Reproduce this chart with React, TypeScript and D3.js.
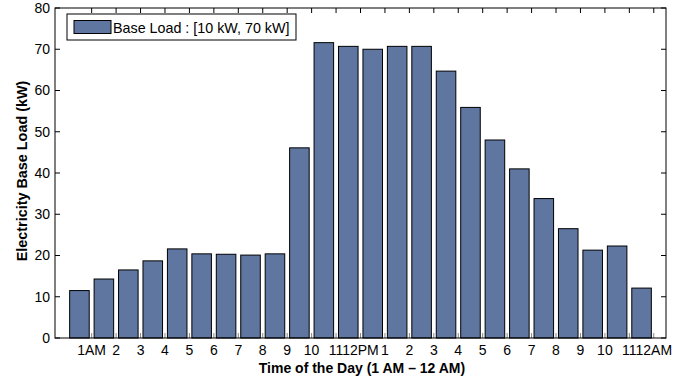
import React from "react";
import * as d3 from "d3";

const hours = ["1AM","2","3","4","5","6","7","8","9","10","11","12PM","1","2","3","4","5","6","7","8","9","10","11","12AM"];
const baseLoad = [11.5,14.3,16.5,18.7,21.6,20.4,20.3,20.1,20.4,46.1,71.6,70.7,70.0,70.7,70.7,64.7,55.9,48.0,41.0,33.8,26.5,21.3,22.3,12.1];
const yTicks = [0,10,20,30,40,50,60,70,80];
const legendLabel = "Base Load : [10 kW, 70 kW]";
const xTitle = "Time of the Day (1 AM \u2013 12 AM)";
const yTitle = "Electricity Base Load (kW)";

const W = 697, H = 386;
const M = { left: 55, right: 666, top: 8, bottom: 338 };
const FONT = "'Liberation Sans', Arial, Helvetica, sans-serif";
const BAR = "#5f76a0";

export default function App() {
  const x = d3.scaleLinear().domain([0, 25]).range([M.left, M.right]);
  const y = d3.scaleLinear().domain([0, 80]).range([M.bottom, M.top]);
  const bw = x(0.8) - x(0);
  const tl = 5;
  return (
    <svg width={W} height={H} style={{ position: "absolute", left: 0, top: 0, background: "#fff" }} fontFamily={FONT}>
      {baseLoad.map((v, i) => (
        <rect key={i} x={x(i + 1) - bw / 2} y={y(v)} width={bw} height={y(0) - y(v)}
          fill={BAR} stroke="#000" strokeWidth={1} />
      ))}
      {hours.map((h, i) => {
        const xi = x(i + 1.5);
        return (
          <g key={i}>
            <line x1={xi} x2={xi} y1={M.bottom} y2={M.bottom - tl} stroke="#888" strokeWidth={1} />
            <line x1={xi} x2={xi} y1={M.top} y2={M.top + tl} stroke="#000" strokeWidth={1} />
            <text x={xi} y={M.bottom + 17} textAnchor="middle" fontSize={14} fill="#000">{h}</text>
          </g>
        );
      })}
      {yTicks.map((t) => (
        <g key={t}>
          <line x1={M.left} x2={M.left + tl} y1={y(t)} y2={y(t)} stroke="#000" />
          <line x1={M.right} x2={M.right - tl} y1={y(t)} y2={y(t)} stroke="#000" />
          <text x={M.left - 5} y={y(t)} dy="0.35em" textAnchor="end" fontSize={14} fill="#000">{t}</text>
        </g>
      ))}
      <rect x={M.left} y={M.top} width={M.right - M.left} height={M.bottom - M.top} fill="none" stroke="#000" strokeWidth={1} />
      <g>
        <rect x={67} y={14} width={229} height={26} fill="#fff" stroke="#000" strokeWidth={1} />
        <rect x={74} y={20.5} width={37} height={13} fill={BAR} stroke="#000" strokeWidth={1} />
        <text x={113} y={27.5} dy="0.35em" fontSize={14.3} fill="#000">{legendLabel}</text>
      </g>
      <text x={362} y={373} textAnchor="middle" fontSize={14} fontWeight="bold" fill="#000">{xTitle}</text>
      <text transform={`translate(26.5,${171}) rotate(-90)`} textAnchor="middle" fontSize={14.4} fontWeight="bold" fill="#000">{yTitle}</text>
    </svg>
  );
}
